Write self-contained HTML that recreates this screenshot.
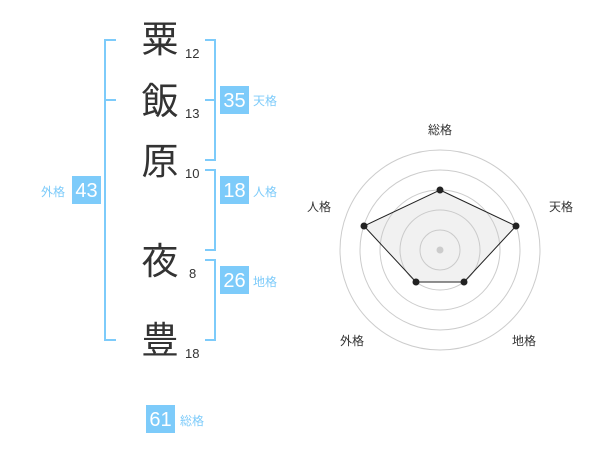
<!DOCTYPE html>
<html><head><meta charset="utf-8"><style>
body{margin:0;width:600px;height:470px;background:#fff;position:relative;overflow:hidden;font-family:"Liberation Sans","Noto Sans CJK JP",sans-serif}
.k{position:absolute;font-size:37px;color:#333;line-height:1;width:40px;text-align:center}
.n{position:absolute;font-size:13px;color:#333;line-height:1}
.b{position:absolute;background:#7dcbfa;color:#fff;font-size:20px;width:29px;height:28px;line-height:30px;text-align:center}
.l{position:absolute;color:#7dcbfa;font-size:12px;line-height:1}
.t{position:absolute;font-size:12px;color:#333;line-height:1}
</style></head><body>
<svg width="600" height="470" style="position:absolute;left:0;top:0">
<g stroke="#7dcbfa" stroke-width="2" fill="none">
<path d="M116 40H105V340H116M105 100H116"/>
<path d="M205 40H215V160H205M205 100H215"/>
<path d="M205 170H215V250H205"/>
<path d="M205 260H215V340H205"/>
</g>
<g fill="none" stroke="#ccc" stroke-width="1">
<circle cx="440" cy="250" r="100"/><circle cx="440" cy="250" r="80"/><circle cx="440" cy="250" r="60"/><circle cx="440" cy="250" r="40"/><circle cx="440" cy="250" r="20"/>
</g>
<polygon points="440,190 516,226 464,282 416,282 364,226" fill="rgba(200,200,200,0.25)" stroke="#222" stroke-width="1"/>
<circle cx="440" cy="250" r="3.5" fill="#ccc"/>
<g fill="#222"><circle cx="440" cy="190" r="3.5"/><circle cx="516" cy="226" r="3.5"/><circle cx="464" cy="282" r="3.5"/><circle cx="416" cy="282" r="3.5"/><circle cx="364" cy="226" r="3.5"/></g>
</svg>
<div class="k" style="left:140px;top:21px">粟</div>
<div class="k" style="left:140px;top:83px">飯</div>
<div class="k" style="left:140px;top:143px">原</div>
<div class="k" style="left:140px;top:243px">夜</div>
<div class="k" style="left:140px;top:322px">豊</div>
<div class="n" style="left:185px;top:47px">12</div>
<div class="n" style="left:185px;top:107px">13</div>
<div class="n" style="left:185px;top:167px">10</div>
<div class="n" style="left:189px;top:267px">8</div>
<div class="n" style="left:185px;top:347px">18</div>
<div class="b" style="left:220px;top:86px">35</div><div class="l" style="left:253px;top:95px">天格</div>
<div class="b" style="left:220px;top:176px">18</div><div class="l" style="left:253px;top:186px">人格</div>
<div class="b" style="left:220px;top:266px">26</div><div class="l" style="left:253px;top:276px">地格</div>
<div class="b" style="left:72px;top:176px">43</div><div class="l" style="left:41px;top:186px">外格</div>
<div class="b" style="left:146px;top:405px">61</div><div class="l" style="left:180px;top:415px">総格</div>
<div class="t" style="left:428px;top:124px">総格</div>
<div class="t" style="left:549px;top:201px">天格</div>
<div class="t" style="left:307px;top:201px">人格</div>
<div class="t" style="left:340px;top:335px">外格</div>
<div class="t" style="left:512px;top:335px">地格</div>
</body></html>
